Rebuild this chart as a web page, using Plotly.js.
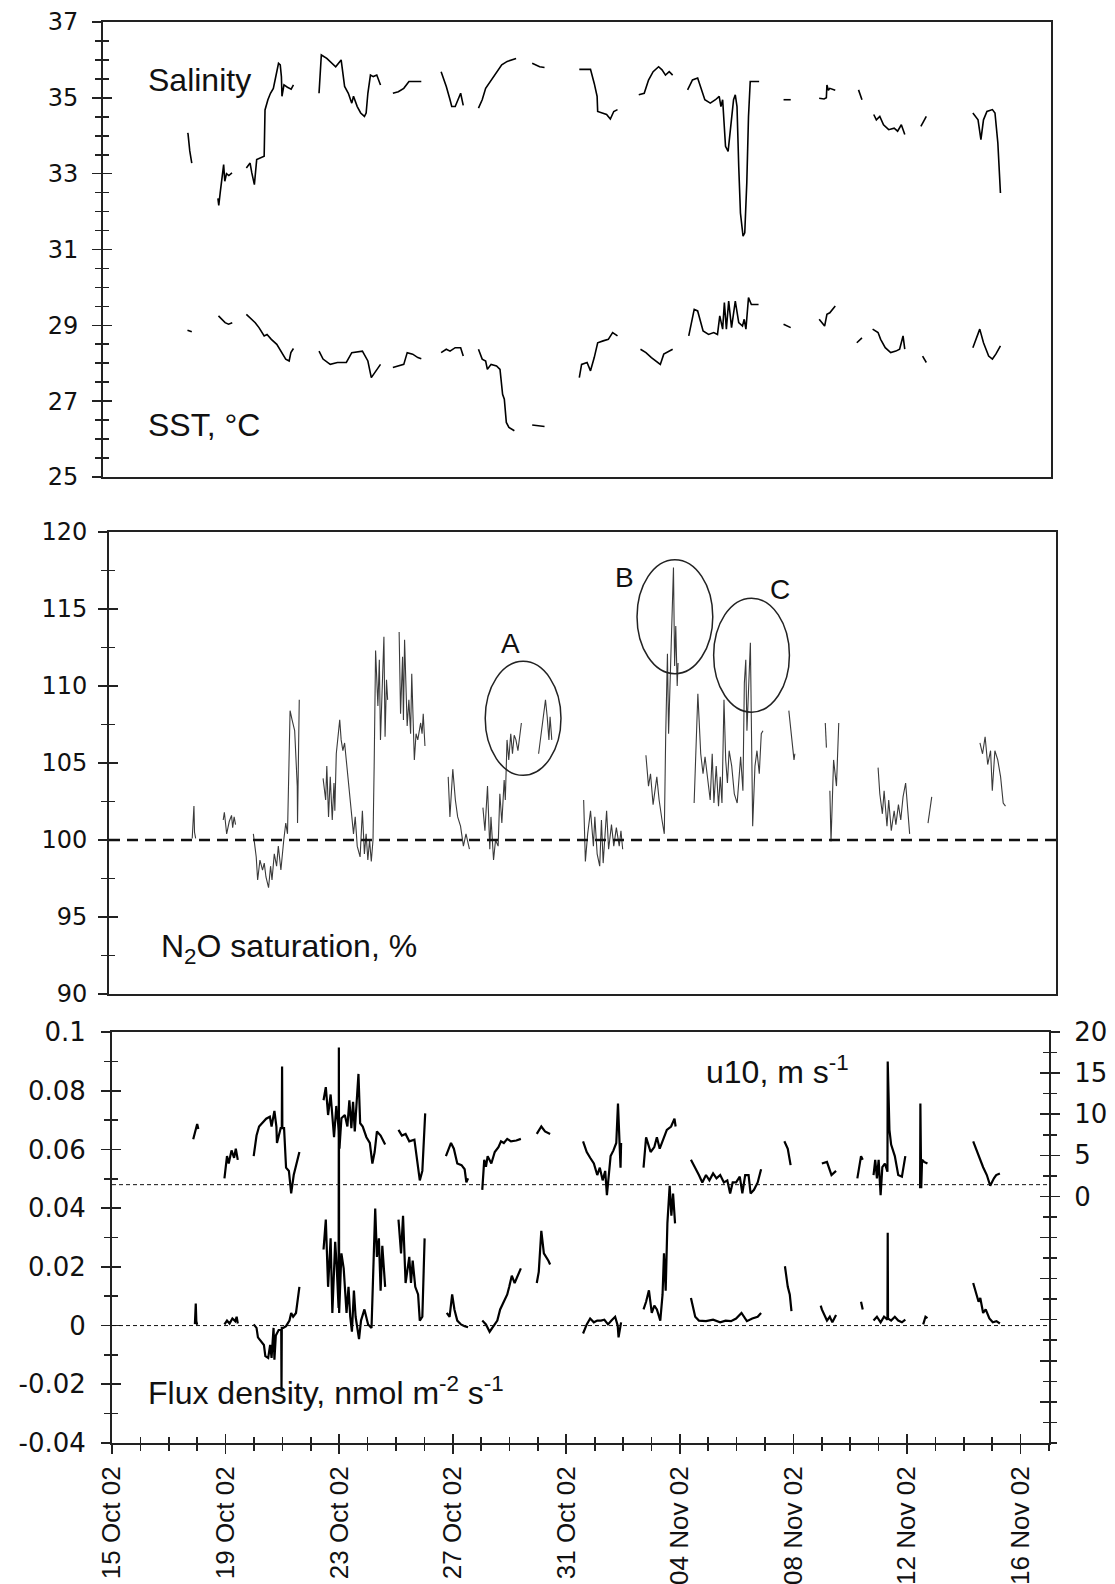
<!DOCTYPE html>
<html>
<head>
<meta charset="utf-8">
<script src="https://cdn.plot.ly/plotly-3.0.1.min.js"></script>
<style>
  html, body { margin: 0; padding: 0; background: #ffffff; }
  #chart { width: 1115px; height: 1584px; }
</style>
</head>
<body>
<div id="chart"></div>
<script>
// ---------- DATA (day of October 2002, value); null = gap in record ----------
const salinity = [
[17.94,34.07],[17.96,34.05],[18.02,33.6],[18.09,33.28],null,
[19.0,32.35],[19.03,32.16],[19.08,32.5],[19.15,33.0],[19.2,33.24],[19.24,32.8],[19.3,33.0],[19.38,32.95],[19.49,33.02],null,
[19.99,33.15],[20.12,33.28],[20.18,33.02],[20.27,32.71],[20.35,33.37],[20.49,33.41],[20.61,33.46],[20.64,34.68],[20.74,34.95],[20.83,35.12],[20.93,35.25],[20.99,35.47],[21.05,35.74],[21.11,35.91],[21.17,35.87],[21.21,35.56],[21.23,35.04],[21.3,35.34],[21.42,35.28],[21.55,35.23],[21.63,35.34],null,
[22.52,35.12],[22.6,36.13],[22.79,36.04],[22.97,35.91],[23.1,35.82],[23.29,36.0],[23.35,35.69],[23.41,35.3],[23.54,35.12],[23.66,34.86],[23.72,35.04],[23.85,34.77],[23.97,34.6],[24.1,34.51],[24.16,34.6],[24.22,35.12],[24.31,35.6],[24.41,35.56],[24.53,35.6],[24.66,35.34],null,
[25.09,35.12],[25.28,35.16],[25.47,35.25],[25.65,35.43],[26.08,35.43],null,
[26.77,35.69],[26.95,35.3],[27.08,34.95],[27.14,34.77],[27.26,34.77],[27.45,35.12],[27.54,34.8],null,
[28.07,34.73],[28.2,34.95],[28.32,35.25],[28.51,35.47],[28.7,35.69],[28.88,35.87],[29.07,35.96],[29.38,36.04],null,
[29.94,35.91],[30.2,35.82],[30.37,35.8],null,
[31.58,35.75],[31.97,35.75],[32.1,35.38],[32.2,35.04],[32.22,34.64],[32.35,34.6],[32.53,34.56],[32.66,34.44],[32.78,34.64],[32.91,34.69],null,
[33.65,35.08],[33.84,35.12],[33.99,35.47],[34.15,35.69],[34.34,35.82],[34.46,35.74],[34.58,35.6],[34.71,35.69],[34.83,35.6],null,
[35.35,35.21],[35.52,35.47],[35.7,35.52],[35.83,35.21],[35.95,34.95],[36.14,34.86],[36.32,34.95],[36.45,35.04],[36.51,34.77],[36.57,34.95],[36.67,33.72],[36.76,33.59],[36.85,34.25],[36.95,34.95],[37.01,35.08],[37.07,34.77],[37.13,33.19],[37.19,31.96],[37.28,31.35],[37.34,31.44],[37.41,32.75],[37.47,34.51],[37.53,35.43],[37.84,35.43],null,
[38.69,34.95],[38.94,34.95],null,
[39.93,34.99],[40.1,34.97],[40.18,35.0],[40.2,35.34],[40.25,35.2],[40.3,35.25],[40.49,35.2],null,
[41.3,35.21],[41.42,34.95],null,
[41.83,34.56],[41.92,34.42],[42.04,34.51],[42.17,34.29],[42.35,34.16],[42.54,34.2],[42.66,34.12],[42.79,34.29],[42.91,34.03],null,
[43.47,34.25],[43.66,34.51],null,
[45.28,34.6],[45.46,34.42],[45.56,33.9],[45.65,34.42],[45.77,34.64],[45.96,34.69],[46.05,34.6],[46.15,33.81],[46.24,32.49]
];

const sst = [
[17.94,28.87],[18.09,28.83],null,
[19.02,29.25],[19.12,29.16],[19.25,29.07],[19.37,29.03],[19.5,29.07],null,
[19.99,29.29],[20.18,29.16],[20.3,29.07],[20.43,28.94],[20.61,28.72],[20.71,28.76],[20.86,28.63],[21.05,28.5],[21.23,28.28],[21.36,28.11],[21.48,28.06],[21.54,28.28],[21.63,28.39],null,
[22.52,28.32],[22.66,28.11],[22.91,27.97],[23.16,28.02],[23.47,28.02],[23.66,28.28],[24.03,28.32],[24.22,28.06],[24.34,27.62],[24.47,27.75],[24.66,27.97],null,
[25.09,27.89],[25.34,27.93],[25.47,27.97],[25.59,28.28],[25.78,28.24],[25.96,28.15],[26.08,28.12],null,
[26.77,28.28],[26.95,28.37],[27.08,28.32],[27.26,28.41],[27.45,28.41],[27.54,28.19],null,
[28.07,28.37],[28.2,28.11],[28.32,28.06],[28.38,27.84],[28.51,27.97],[28.7,27.93],[28.82,27.84],[28.91,27.18],[28.97,27.05],[29.04,26.44],[29.13,26.31],[29.32,26.22],null,
[29.94,26.37],[30.37,26.33],null,
[31.58,27.62],[31.66,27.97],[31.85,28.02],[31.97,27.8],[32.1,28.15],[32.22,28.54],[32.41,28.59],[32.59,28.63],[32.74,28.81],[32.91,28.72],null,
[33.71,28.37],[33.9,28.28],[34.09,28.15],[34.4,27.97],[34.52,28.24],[34.83,28.37],null,
[35.39,28.72],[35.58,29.42],[35.7,29.38],[35.89,28.85],[36.08,28.76],[36.26,28.81],[36.39,28.76],[36.47,29.25],[36.57,28.9],[36.63,29.6],[36.7,28.9],[36.78,29.64],[36.88,28.94],[37.01,29.64],[37.13,29.07],[37.26,28.98],[37.32,29.16],[37.38,28.9],[37.47,29.73],[37.57,29.55],[37.82,29.55],null,
[38.69,29.03],[38.94,28.94],null,
[39.93,29.16],[40.12,28.98],[40.2,29.29],[40.3,29.33],[40.49,29.51],null,
[41.24,28.54],[41.42,28.67],null,
[41.79,28.9],[41.98,28.81],[42.07,28.63],[42.23,28.41],[42.42,28.28],[42.6,28.32],[42.73,28.37],[42.85,28.72],[42.91,28.37],null,
[43.53,28.19],[43.66,28.02],null,
[45.28,28.41],[45.52,28.9],[45.65,28.54],[45.83,28.19],[45.96,28.11],[46.08,28.24],[46.24,28.46]
];

const n2oSaturation = [
[17.9,100.1],[17.93,101.0],[17.96,102.2],[17.98,100.5],[18.02,100.1],null,
[18.98,101.3],[19.02,101.8],[19.1,100.4],[19.19,101.2],[19.27,101.6],[19.31,100.8],[19.36,101.5],[19.41,101.0],null,
[20.03,100.4],[20.13,98.9],[20.18,97.4],[20.26,98.7],[20.35,98.05],[20.41,98.5],[20.47,97.6],[20.56,96.9],[20.63,98.3],[20.68,97.4],[20.76,99.1],[20.84,98.3],[20.9,99.6],[20.99,98.05],[21.09,100.0],[21.16,101.1],[21.22,100.4],[21.31,108.4],[21.38,107.8],[21.47,107.1],[21.56,103.5],[21.57,101.1],[21.63,109.1],null,
[22.46,104.0],[22.55,102.6],[22.59,104.8],[22.65,101.5],[22.71,104.1],[22.78,101.3],[22.84,103.7],[22.87,101.9],[22.92,105.6],[23.0,106.9],[23.04,107.8],[23.09,106.5],[23.15,105.8],[23.21,106.3],[23.27,105.2],[23.33,104.1],[23.4,102.6],[23.46,101.7],[23.52,100.4],[23.58,101.5],[23.65,99.6],[23.75,98.9],[23.83,101.9],[23.9,99.1],[23.96,100.4],[24.02,98.7],[24.08,100.0],[24.14,98.6],[24.2,100.0],[24.24,104.8],[24.27,108.7],[24.29,112.3],[24.37,108.7],[24.42,111.7],[24.46,106.5],[24.52,110.2],[24.58,113.2],[24.62,106.7],[24.67,110.4],[24.71,109.1],null,
[25.11,113.5],[25.16,108.2],[25.23,111.9],[25.26,107.8],[25.3,113.0],[25.39,107.4],[25.45,109.1],[25.51,106.9],[25.55,110.8],[25.64,105.2],[25.7,106.9],[25.76,106.5],[25.86,107.6],[25.91,106.9],[25.95,108.2],[26.01,106.1],null,
[26.82,104.1],[26.88,101.5],[26.98,104.6],[27.07,102.6],[27.15,101.5],[27.25,100.9],[27.35,99.6],[27.44,100.4],[27.56,99.4],null,
[28.03,102.1],[28.1,100.6],[28.19,103.5],[28.27,99.4],[28.31,101.5],[28.4,98.7],[28.47,100.0],[28.56,99.6],[28.62,103.0],[28.69,101.1],[28.77,103.9],[28.81,102.6],[28.87,106.5],[28.93,105.2],[29.0,106.9],[29.06,105.6],[29.12,106.8],[29.18,106.5],[29.25,105.8],[29.37,107.6],null,
[29.97,105.6],[30.06,106.9],[30.12,107.8],[30.21,109.1],[30.27,108.0],[30.33,106.5],[30.37,108.0],[30.43,106.5],null,
[31.54,102.6],[31.6,98.6],[31.68,100.4],[31.78,101.9],[31.88,99.6],[31.93,101.5],[32.01,99.1],[32.1,98.3],[32.16,101.3],[32.22,98.5],[32.34,101.9],[32.41,99.4],[32.51,101.0],[32.59,99.6],[32.68,100.8],[32.78,99.6],[32.84,100.6],[32.9,99.4],null,
[33.71,105.5],[33.8,103.5],[33.87,104.3],[33.96,102.3],[34.09,104.1],[34.17,102.6],[34.27,101.3],[34.35,100.4],[34.4,106.9],[34.46,112.1],[34.5,106.9],[34.55,110.0],[34.6,113.4],[34.65,115.6],[34.67,117.7],[34.71,111.3],[34.75,113.9],[34.8,110.0],[34.83,111.5],null,
[35.39,102.4],[35.52,109.5],[35.62,105.6],[35.7,104.3],[35.77,105.4],[35.87,103.7],[35.95,102.6],[36.02,105.6],[36.08,102.4],[36.16,104.8],[36.24,102.2],[36.3,104.1],[36.36,102.4],[36.43,109.1],[36.49,105.2],[36.55,103.7],[36.61,105.8],[36.7,104.8],[36.79,103.0],[36.89,102.4],[37.01,105.4],[37.09,103.2],[37.14,110.2],[37.19,111.7],[37.23,107.1],[37.35,112.8],[37.43,100.9],[37.51,104.8],[37.58,105.8],[37.66,104.3],[37.73,106.9],[37.79,107.1],null,
[38.69,108.4],[38.78,106.9],[38.87,105.2],[38.9,105.6],null,
[39.96,107.6],[40.0,106.0],null,
[40.12,103.2],[40.16,99.9],[40.25,105.2],[40.35,103.5],[40.43,107.6],null,
[41.8,104.7],[41.86,103.0],[41.95,101.7],[42.01,103.2],[42.11,100.9],[42.17,102.6],[42.26,100.6],[42.36,101.9],[42.42,101.0],[42.51,102.3],[42.59,101.3],[42.67,102.8],[42.76,103.7],[42.83,102.2],[42.9,100.4],null,
[43.54,101.1],[43.67,102.8],null,
[45.35,106.3],[45.44,105.6],[45.53,106.7],[45.62,104.9],[45.72,105.8],[45.78,103.2],[45.87,105.8],[45.97,105.2],[46.07,104.1],[46.16,102.4],[46.24,102.2]
];

const u10 = [
[17.86,6.95],[17.9,7.4],[17.95,8.0],[18.0,8.8],[18.04,8.2],null,
[18.96,2.18],[19.05,4.9],[19.11,4.0],[19.21,5.6],[19.3,4.7],[19.36,5.8],[19.43,4.45],null,
[19.99,4.9],[20.09,7.4],[20.18,8.5],[20.31,9.0],[20.43,9.45],[20.56,9.7],[20.62,8.5],[20.72,10.4],[20.79,8.5],[20.81,6.5],[20.94,8.3],[20.98,8.3],[20.99,15.8],[21.0,8.3],[21.06,8.3],[21.13,3.5],[21.23,3.1],[21.31,0.36],[21.4,2.6],[21.5,4.0],[21.6,5.4],null,
[22.45,11.7],[22.53,13.3],[22.61,9.9],[22.7,12.4],[22.82,7.2],[22.9,11.0],[22.99,8.0],[23.01,5.8],[23.08,9.5],[23.2,9.9],[23.29,8.5],[23.36,11.7],[23.43,8.3],[23.49,11.5],[23.55,7.9],[23.68,14.9],[23.74,8.9],[23.83,8.5],[23.96,7.2],[24.08,6.5],[24.17,4.0],[24.25,5.4],[24.33,7.9],[24.46,7.4],[24.62,6.3],null,
[25.09,8.1],[25.21,7.4],[25.34,7.6],[25.47,6.7],[25.65,6.9],[25.75,4.0],[25.84,1.95],[25.93,3.1],[26.03,10.1],null,
[26.76,4.9],[26.94,6.5],[27.04,5.8],[27.16,4.0],[27.31,3.8],[27.42,3.3],[27.48,1.7],[27.54,2.2],null,
[28.04,0.8],[28.11,4.45],[28.17,3.6],[28.23,4.9],[28.36,4.0],[28.48,5.4],[28.61,6.0],[28.7,6.7],[28.8,6.5],[28.92,7.0],[29.05,6.7],[29.24,6.8],[29.4,7.0],null,
[29.96,7.6],[30.12,8.5],[30.25,7.9],[30.43,7.6],null,
[31.59,6.7],[31.72,5.4],[31.84,4.7],[31.97,4.0],[32.09,2.6],[32.18,3.5],[32.28,1.95],[32.37,3.1],[32.43,0.14],[32.51,2.6],[32.56,4.9],[32.66,5.6],[32.76,6.5],[32.82,11.3],[32.91,3.5],[32.93,6.5],null,
[33.72,3.5],[33.81,7.2],[33.89,6.3],[33.97,5.4],[34.1,6.0],[34.19,7.2],[34.29,5.8],[34.41,7.0],[34.54,8.1],[34.69,8.5],[34.81,9.45],[34.85,8.5],null,
[35.39,4.45],[35.54,3.55],[35.67,2.6],[35.79,1.7],[35.92,2.6],[36.04,1.95],[36.17,2.8],[36.29,2.2],[36.42,2.6],[36.55,1.7],[36.67,1.95],[36.77,0.36],[36.86,1.7],[36.98,1.7],[37.11,2.4],[37.2,0.36],[37.3,2.6],[37.42,2.6],[37.49,0.36],[37.61,0.8],[37.74,1.7],[37.86,3.3],null,
[38.68,6.7],[38.8,5.8],[38.9,3.8],null,
[40.0,4.0],[40.18,4.2],[40.34,2.6],[40.5,3.1],null,
[41.25,2.2],[41.38,4.9],[41.44,4.45],null,
[41.82,2.6],[41.88,4.45],[41.94,2.2],[42.0,4.45],[42.07,0.14],[42.13,3.55],[42.22,4.0],[42.31,3.0],[42.32,16.4],[42.38,8.1],[42.44,6.3],[42.57,4.9],[42.69,2.6],[42.82,2.4],[42.94,4.9],null,
[43.46,1.0],[43.47,11.3],[43.5,1.0],[43.53,4.45],[43.6,4.2],[43.72,4.0],null,
[45.33,6.7],[45.52,4.9],[45.68,3.55],[45.81,2.6],[45.93,1.3],[46.06,2.2],[46.14,2.6],[46.27,2.8]
];

const fluxDensity = [
[17.92,0.0005],[17.95,0.0075],[17.97,0.0015],[18.0,0.0003],null,
[18.96,0.0004],[19.05,0.0017],[19.14,0.0007],[19.24,0.0024],[19.34,0.0015],[19.39,0.003],[19.43,0.0007],null,
[19.99,0.0004],[20.09,-0.0008],[20.14,-0.004],[20.25,-0.0053],[20.35,-0.0066],[20.4,-0.0104],[20.5,-0.011],[20.57,-0.0066],[20.62,-0.011],[20.69,-0.0008],[20.72,-0.0116],[20.77,-0.0034],[20.87,-0.0015],[20.96,-0.0015],[20.97,-0.0225],[20.98,-0.0008],[21.03,-0.0008],[21.13,-0.0002],[21.25,0.0017],[21.31,0.0043],[21.38,0.003],[21.48,0.0043],[21.6,0.0132],null,
[22.45,0.0259],[22.53,0.0361],[22.61,0.0132],[22.7,0.0297],[22.76,0.0043],[22.86,0.0285],[22.91,0.0208],[22.98,0.006],[22.99,0.0947],[23.0,0.0043],[23.08,0.0246],[23.16,0.0195],[23.26,0.0043],[23.33,0.0132],[23.39,0.003],[23.45,-0.0021],[23.52,0.0119],[23.58,0.003],[23.7,-0.0046],[23.77,0.0017],[23.89,0.0055],[24.02,0.0004],[24.14,-0.0008],[24.21,0.0183],[24.27,0.0399],[24.33,0.0234],[24.4,0.0297],[24.46,0.0119],[24.52,0.0272],[24.62,0.0132],null,
[25.09,0.0361],[25.18,0.0246],[25.25,0.0374],[25.34,0.0145],[25.47,0.0234],[25.53,0.0145],[25.59,0.0221],[25.68,0.0132],[25.78,0.0106],[25.84,0.0017],[25.93,0.003],[26.01,0.0297],null,
[26.79,0.0043],[26.89,0.003],[26.98,0.0106],[27.06,0.0055],[27.16,0.0017],[27.29,0.0004],[27.42,-0.0002],[27.54,-0.0006],null,
[28.04,0.0017],[28.17,0.0004],[28.3,-0.0021],[28.42,-0.0002],[28.57,0.0017],[28.67,0.0055],[28.8,0.0081],[28.92,0.0106],[28.99,0.0132],[29.08,0.017],[29.18,0.0145],[29.28,0.017],[29.4,0.0195],null,
[29.96,0.0145],[30.03,0.0183],[30.12,0.0323],[30.21,0.0246],[30.37,0.0221],[30.43,0.0208],null,
[31.59,-0.0027],[31.72,0.0004],[31.84,0.0024],[31.97,0.0011],[32.09,0.0017],[32.22,0.0017],[32.34,0.002],[32.47,0.0004],[32.59,0.0017],[32.72,0.003],[32.81,0.0],[32.84,-0.004],[32.93,0.0011],null,
[33.72,0.0055],[33.81,0.0081],[33.91,0.012],[34.01,0.0043],[34.1,0.0068],[34.19,0.0055],[34.31,0.0017],[34.39,0.0106],[34.44,0.0246],[34.5,0.0119],[34.56,0.0348],[34.64,0.0476],[34.7,0.0374],[34.76,0.045],[34.83,0.0348],null,
[35.39,0.0094],[35.54,0.003],[35.67,0.0017],[35.92,0.0015],[36.17,0.002],[36.42,0.0011],[36.61,0.0017],[36.8,0.0015],[36.98,0.0024],[37.17,0.0043],[37.36,0.0015],[37.55,0.0024],[37.74,0.003],[37.86,0.0043],null,
[38.7,0.0202],[38.8,0.0132],[38.87,0.0106],[38.93,0.0049],null,
[39.96,0.0068],[40.0,0.0055],[40.18,0.0017],[40.28,0.003],[40.37,0.0011],[40.5,0.0036],null,
[41.38,0.0081],[41.44,0.0055],null,
[41.82,0.0017],[41.94,0.003],[42.07,0.0011],[42.19,0.003],[42.31,0.002],[42.32,0.0316],[42.33,0.0024],[42.44,0.0017],[42.57,0.003],[42.69,0.0017],[42.82,0.0011],[42.94,0.002],null,
[43.57,0.0004],[43.65,0.003],[43.72,0.0025],null,
[45.33,0.0145],[45.43,0.0106],[45.52,0.0081],[45.58,0.0094],[45.68,0.0043],[45.77,0.0055],[45.9,0.0024],[46.02,0.0011],[46.15,0.0015],[46.27,0.0007]
];

// tick labels
const fluxTickVals = [-0.04, -0.02, 0, 0.02, 0.04, 0.06, 0.08, 0.1];
const fluxTickText = ['-0.04', '-0.02', '0', '0.02', '0.04', '0.06', '0.08', '0.1'];
const u10TickVals = [0, 5, 10, 15, 20];
const u10TickText = ['0', '5', '10', '15', '20'];
const dateRange = ['2002-10-15', '2002-11-17'];

// circled events on the N2O panel: label, centre day (Oct), centre saturation
const circleLabels = ['A', 'B', 'C'];
const circleDays = [29.43, 34.72, 37.39];
const circleSats = [107.9, 114.5, 112.0];

// ---------- helpers ----------
const W = 1115, H = 1584;
const DAY = 86400000;
function dayToDate(d) {
  const s = new Date(Date.UTC(2002, 9, 1) + (d - 1) * DAY).toISOString();
  return s.slice(0, 10) + ' ' + s.slice(11, 19);
}
function toXY(pairs) {
  const x = [], y = [];
  pairs.forEach(p => {
    if (p === null) { x.push(null); y.push(null); }
    else { x.push(dayToDate(p[0])); y.push(p[1]); }
  });
  return { x, y };
}
function lineTrace(pairs, xa, ya, color, width) {
  const d = toXY(pairs);
  return { type: 'scatter', mode: 'lines', x: d.x, y: d.y, xaxis: xa, yaxis: ya,
           line: { color: color, width: width }, connectgaps: false, hoverinfo: 'skip', showlegend: false };
}
const FONT = 'Liberation Sans, Arial, Helvetica, sans-serif';
const TICKFONT = 'DejaVu Sans, Verdana, sans-serif';
const INK = '#111111';
const FRAME = '#222222';

// panel boxes in pixels
const box1 = { l: 103, r: 1051, t: 22, b: 477 };
const box2 = { l: 109, r: 1056, t: 532, b: 994 };
const box3 = { l: 112, r: 1049, t: 1032, b: 1443 };
const xd = b => [b.l / W, b.r / W];
const yd = b => [1 - b.b / H, 1 - b.t / H];

const tickFontSmall = { family: TICKFONT, size: 24, color: INK };
const tickFontLarge = { family: TICKFONT, size: 26, color: INK };

function frameX(b, extra) {
  return Object.assign({
    type: 'date', range: dateRange, domain: xd(b), showgrid: false, zeroline: false,
    showline: true, mirror: true, linecolor: FRAME, linewidth: 2,
    ticks: '', showticklabels: false, fixedrange: true
  }, extra || {});
}
function leftY(b, range, dtick, minor, anchor, extra) {
  return Object.assign({
    domain: yd(b), range: range, anchor: anchor, showgrid: false, zeroline: false,
    showline: true, linecolor: FRAME, linewidth: 2,
    tickmode: 'linear', tick0: range[0], dtick: dtick,
    ticks: 'outside', ticklen: 9, tickwidth: 1.6, tickcolor: FRAME,
    minor: { tickmode: 'linear', tick0: range[0], dtick: minor, ticks: 'outside', ticklen: 6, tickwidth: 1.6, tickcolor: FRAME },
    tickfont: tickFontSmall, ticklabelstandoff: 9, fixedrange: true
  }, extra || {});
}
function ghostY(base, anchor, side, range, dtick, minor, extra) {
  return Object.assign({
    overlaying: base, anchor: anchor, side: side, range: range,
    showgrid: false, zeroline: false, showline: false, showticklabels: false,
    tickmode: 'linear', tick0: range[0], dtick: dtick,
    ticks: 'inside', ticklen: 9, tickwidth: 1.6, tickcolor: FRAME,
    minor: { tickmode: 'linear', tick0: range[0], dtick: minor, ticks: 'inside', ticklen: 6, tickwidth: 1.6, tickcolor: FRAME },
    fixedrange: true
  }, extra || {});
}

const traces = [
  lineTrace(salinity, 'x', 'y', '#000000', 1.6),
  lineTrace(sst, 'x', 'y', '#000000', 1.6),
  lineTrace(n2oSaturation, 'x2', 'y2', '#3a3a3a', 1.1),
  lineTrace(u10, 'x3', 'y4', '#000000', 2.2),
  lineTrace(fluxDensity, 'x3', 'y3', '#000000', 2.2),
  // empty traces that carry the "inside" halves of the crossing ticks
  { type: 'scatter', x: [], y: [], xaxis: 'x', yaxis: 'y5', showlegend: false, hoverinfo: 'skip' },
  { type: 'scatter', x: [], y: [], xaxis: 'x2', yaxis: 'y6', showlegend: false, hoverinfo: 'skip' },
  { type: 'scatter', x: [], y: [], xaxis: 'x3', yaxis: 'y7', showlegend: false, hoverinfo: 'skip' },
  { type: 'scatter', x: [], y: [], xaxis: 'x3', yaxis: 'y8', showlegend: false, hoverinfo: 'skip' },
  { type: 'scatter', x: [], y: [], xaxis: 'x4', yaxis: 'y3', showlegend: false, hoverinfo: 'skip' }
];

const xTickCommon = {
  tickmode: 'linear', tick0: '2002-10-15', dtick: 4 * DAY
};

const layout = {
  width: W, height: H,
  margin: { l: 0, r: 0, t: 0, b: 0, pad: 0 },
  paper_bgcolor: '#ffffff', plot_bgcolor: 'rgba(0,0,0,0)',
  showlegend: false,
  font: { family: FONT, color: INK },
  xaxis: frameX(box1, { anchor: 'y' }),
  xaxis2: frameX(box2, { anchor: 'y2' }),
  xaxis3: frameX(box3, Object.assign({
    anchor: 'y3', showticklabels: true, tickformat: '%d %b %y', tickangle: -90,
    ticks: 'outside', ticklen: 9, tickwidth: 1.6, tickcolor: FRAME,
    minor: { tickmode: 'linear', tick0: '2002-10-15', dtick: DAY, ticks: 'outside', ticklen: 6, tickwidth: 1.6, tickcolor: FRAME },
    tickfont: { family: FONT, size: 26, color: INK }, ticklabelstandoff: 2
  }, xTickCommon)),
  xaxis4: Object.assign({
    type: 'date', range: dateRange, overlaying: 'x3', anchor: 'y3',
    showgrid: false, zeroline: false, showline: false, showticklabels: false,
    ticks: 'inside', ticklen: 9, tickwidth: 1.6, tickcolor: FRAME,
    minor: { tickmode: 'linear', tick0: '2002-10-15', dtick: DAY, ticks: 'inside', ticklen: 6, tickwidth: 1.6, tickcolor: FRAME },
    fixedrange: true
  }, xTickCommon),

  yaxis: leftY(box1, [25, 37], 2, 0.5, 'x', { mirror: true, ticklabelstandoff: 9 }),
  yaxis2: leftY(box2, [90, 120], 5, 2.5, 'x2', { mirror: true, ticklabelstandoff: 6 }),
  yaxis3: leftY(box3, [-0.04, 0.1], 0.02, 0.01, 'x3', {
    tickmode: 'array', tickvals: fluxTickVals, ticktext: fluxTickText,
    tickfont: tickFontLarge, ticklabelstandoff: 10 }),
  yaxis4: {
    overlaying: 'y3', anchor: 'x3', side: 'right', range: [-30, 20],
    showgrid: false, zeroline: false, showline: true, linecolor: FRAME, linewidth: 2,
    tickmode: 'array', tickvals: u10TickVals, ticktext: u10TickText,
    ticks: 'outside', ticklen: 9, tickwidth: 1.6, tickcolor: FRAME,
    minor: { tickmode: 'linear', tick0: 0, dtick: 2.5, ticks: 'outside', ticklen: 6, tickwidth: 1.6, tickcolor: FRAME },
    tickfont: tickFontLarge, ticklabelstandoff: 9, fixedrange: true
  },
  yaxis5: ghostY('y', 'x', 'left', [25, 37], 2, 0.5),
  yaxis6: ghostY('y2', 'x2', 'left', [90, 120], 5, 2.5),
  yaxis7: ghostY('y3', 'x3', 'left', [-0.04, 0.1], 0.02, 0.01, { tick0: 0 }),
  yaxis8: ghostY('y3', 'x3', 'right', [-30, 20], 5, 2.5, { tick0: 0 }),

  shapes: [
    { type: 'line', xref: 'x2 domain', yref: 'y2', x0: 0, x1: 1, y0: 100, y1: 100,
      line: { color: INK, width: 2.4, dash: '11px,7px' } },
    { type: 'line', xref: 'x3 domain', yref: 'y3', x0: 0, x1: 1, y0: 0, y1: 0,
      line: { color: INK, width: 1, dash: '4px,3px' } },
    { type: 'line', xref: 'x3 domain', yref: 'y3', x0: 0, x1: 1, y0: 0.048, y1: 0.048,
      line: { color: INK, width: 1, dash: '4px,3px' } }
  ].concat(circleDays.map((d, i) => ({
    type: 'circle', xref: 'x2', yref: 'y2',
    x0: dayToDate(d - 1.32), x1: dayToDate(d + 1.32),
    y0: circleSats[i] - 3.7, y1: circleSats[i] + 3.7,
    line: { color: FRAME, width: 1.5 }
  }))),

  annotations: [
    { text: 'Salinity', x: 146 / W, y: 1 - 80 / H },
    { text: 'SST, °C', x: 146 / W, y: 1 - 425 / H },
    { text: 'N<sub>2</sub>O saturation, %', x: 159 / W, y: 1 - 948 / H },
    { text: 'u10, m s<sup>-1</sup>', x: 704 / W, y: 1 - 1070 / H },
    { text: 'Flux density, nmol m<sup>-2</sup> s<sup>-1</sup>', x: 146 / W, y: 1 - 1391 / H }
  ].map(a => Object.assign({
    xref: 'paper', yref: 'paper', xanchor: 'left', yanchor: 'middle', showarrow: false,
    font: { family: FONT, size: 32, color: INK }
  }, a)).concat([
    { text: circleLabels[0], x: 510 / W, y: 1 - 643 / H },
    { text: circleLabels[1], x: 624 / W, y: 1 - 578 / H },
    { text: circleLabels[2], x: 780 / W, y: 1 - 589 / H }
  ].map(a => Object.assign({
    xref: 'paper', yref: 'paper', xanchor: 'center', yanchor: 'middle', showarrow: false,
    font: { family: FONT, size: 28, color: INK }
  }, a)))
};

Plotly.newPlot('chart', traces, layout, { displayModeBar: false, staticPlot: true });
</script>
</body>
</html>
